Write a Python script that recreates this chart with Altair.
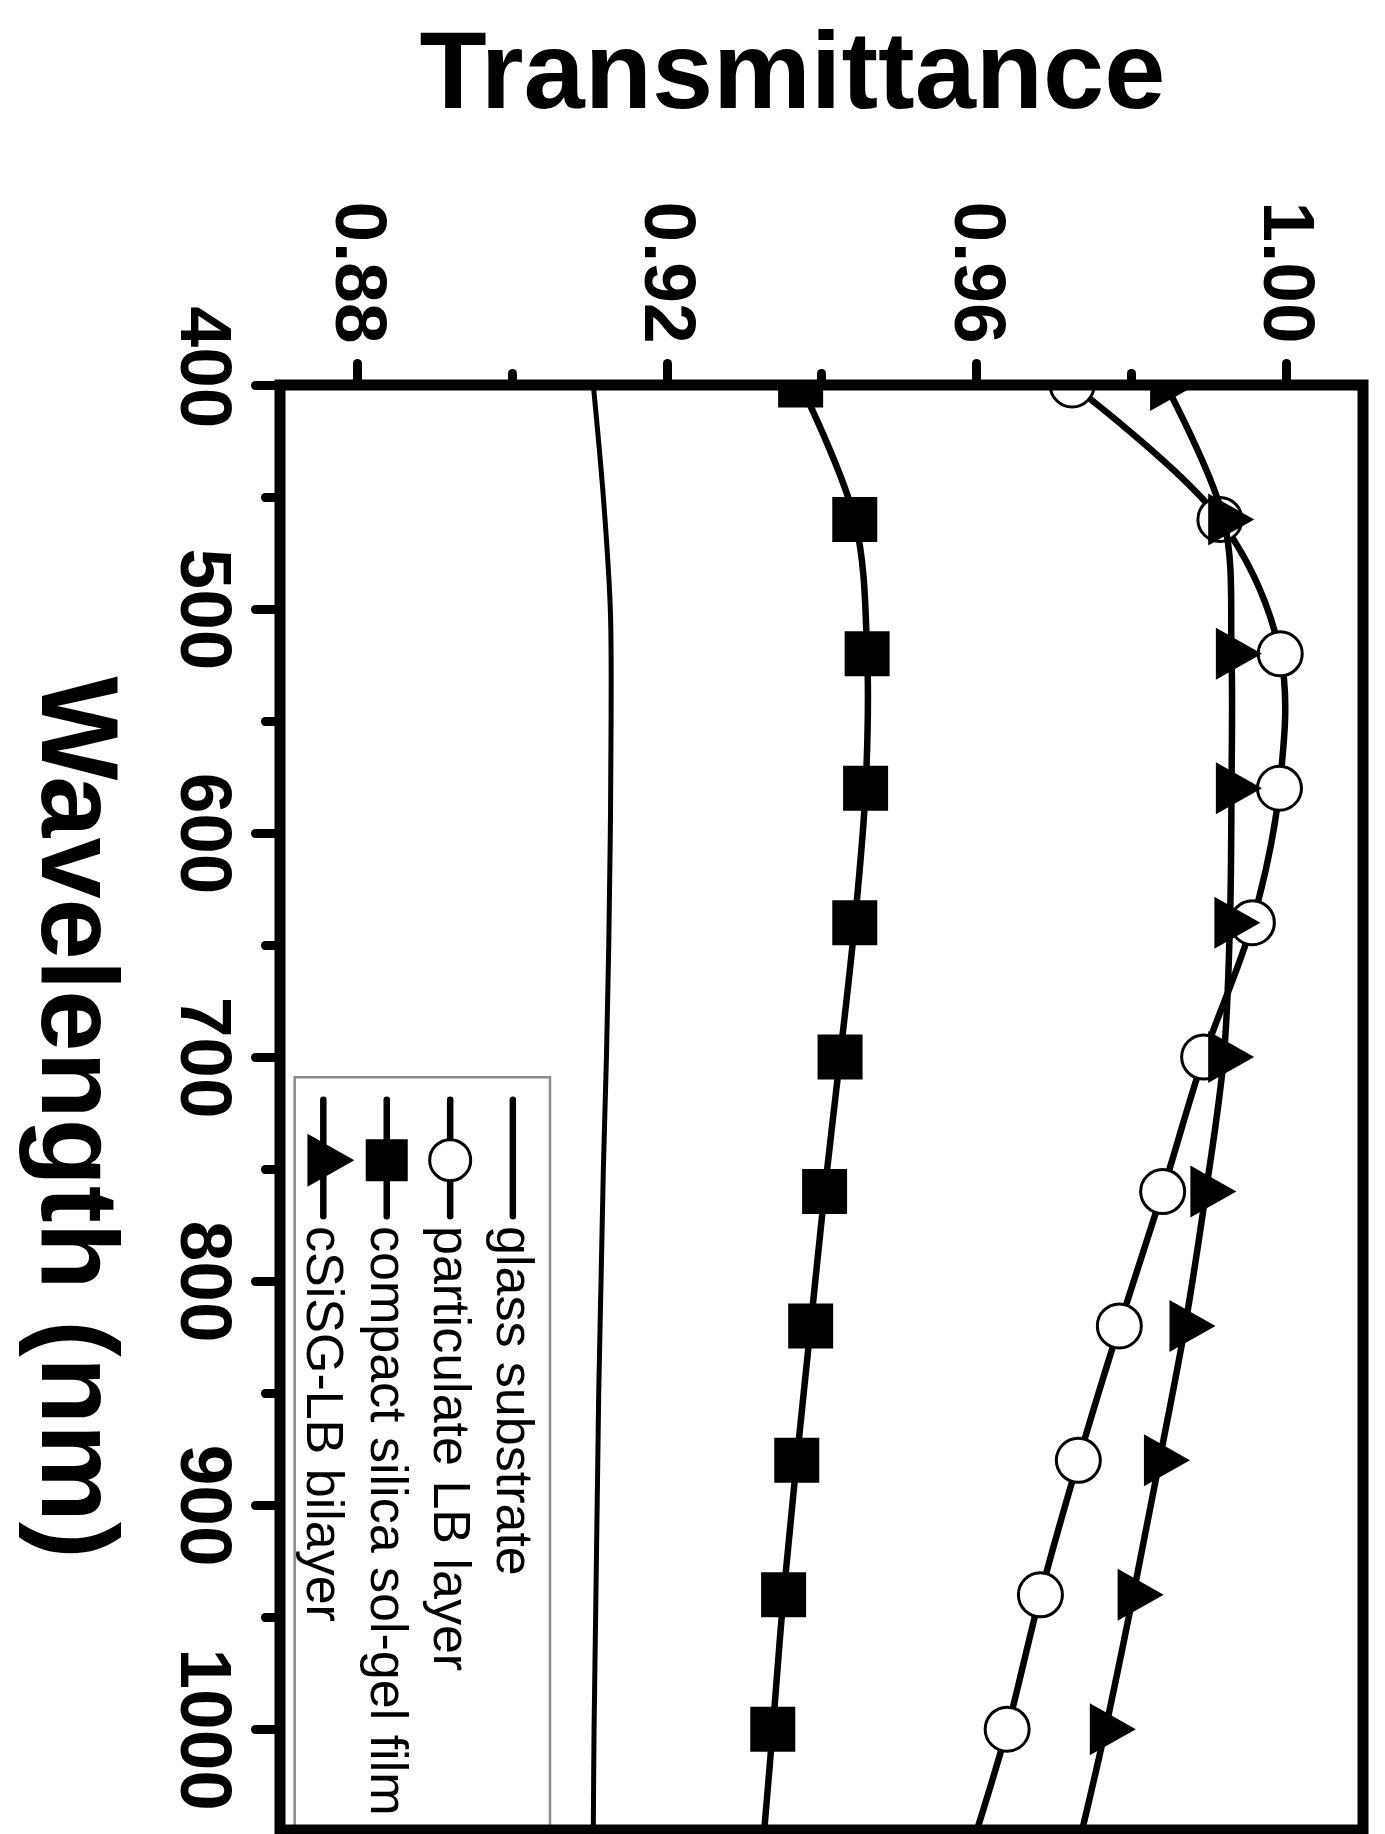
import altair as alt
import pandas as pd

# ---------------- data ----------------
wl_markers = [400, 460, 520, 580, 640, 700, 760, 820, 880, 940, 1000]
compact = [0.9373, 0.9443, 0.9459, 0.9457, 0.9443, 0.9424, 0.9404, 0.9386, 0.9368, 0.9351, 0.9337]
particulate = [0.9724, 0.9915, 0.9993, 0.9992, 0.9957, 0.9894, 0.9841, 0.9785, 0.9732, 0.9683, 0.9640]
bilayer = [0.9845, 0.9920, 0.9930, 0.9930, 0.9928, 0.9920, 0.9897, 0.9870, 0.9837, 0.9803, 0.9767]

wl_end = 1045
compact_end = 0.9326
particulate_end = 0.9601
bilayer_end = 0.9737

glass_wl = [400, 450, 500, 550, 600, 650, 700, 750, 800, 850, 900, 950, 1000, 1045]
glass = [0.9105, 0.9118, 0.9127, 0.9128, 0.9127, 0.9125, 0.9122, 0.9118, 0.9115,
         0.9112, 0.9110, 0.9108, 0.9106, 0.9105]

names = ["glass substrate", "particulate LB layer",
         "compact silica sol-gel film", "cSiSG-LB bilayer"]

x_major = [0.88, 0.92, 0.96, 1.00]
x_minor = [0.90, 0.94, 0.98]
y_major = [500, 600, 700, 800, 900, 1000]
y_first = [400]
y_minor = [450, 550, 650, 750, 850, 950]
x_domain = [0.87, 1.01]
y_domain = [400, 1045]

# legend placement (in data units of the plot)
legend_x = [0.9001, 0.8920, 0.8838, 0.8756]
legend_seg = [719, 771]
legend_mark_wl = 746
legend_text_wl = 775.4
legend_box_x = [0.8719, 0.9049]
legend_box_wl = [709, 1045]

# ---------------- tables ----------------
def series_df(name, vals, end):
    rows = [{"series": name, "wl": w, "T": v} for w, v in zip(wl_markers, vals)]
    line_rows = rows + [{"series": name, "wl": wl_end, "T": end}]
    return pd.DataFrame(line_rows), pd.DataFrame(rows)

part_line, part_pts = series_df(names[1], particulate, particulate_end)
comp_line, comp_pts = series_df(names[2], compact, compact_end)
bil_line, bil_pts = series_df(names[3], bilayer, bilayer_end)
glass_df = pd.DataFrame({"series": names[0], "wl": glass_wl, "T": glass})

leg_df = pd.DataFrame({"series": names, "x": legend_x,
                       "y1": legend_seg[0], "y2": legend_seg[1],
                       "ym": legend_mark_wl, "yt": legend_text_wl})
box_df = pd.DataFrame({"x1": [legend_box_x[0]], "x2": [legend_box_x[1]],
                       "y1": [legend_box_wl[0]], "y2": [legend_box_wl[1]]})
frame_df = pd.DataFrame({"x1": [x_domain[0]], "x2": [x_domain[1]],
                         "y1": [y_domain[0]], "y2": [y_domain[1]]})

# ---------------- scales / axes ----------------
FONT = "Liberation Sans"
xs = alt.Scale(domain=x_domain, nice=False, zero=False)
ys = alt.Scale(domain=y_domain, reverse=True, nice=False, zero=False)

common_tick = dict(grid=False, domain=False, tickWidth=9, tickColor="black",
                   tickCap="round", labelOverlap=False, labelFlush=False)

x_axis_major = alt.Axis(
    orient="top", values=x_major, format=".2f",
    title="Transmittance", titleAngle=0, titleX=512, titleY=-278,
    titleAlign="center", titleBaseline="alphabetic", titleFont=FONT,
    titleFontSize=110, titleFontWeight="bold", titleColor="black",
    labelAngle=90, labelAlign="right", labelBaseline="middle",
    labelFont=FONT, labelFontSize=73, labelFontWeight="bold", labelColor="black",
    labelPadding=20, tickSize=22, **common_tick,
)
x_axis_minor = alt.Axis(orient="top", values=x_minor, labels=False, title=None,
                        tickSize=12, **common_tick)

y_axis_major = alt.Axis(
    orient="left", values=y_major, format="d",
    title="Wavelength (nm)", titleAngle=90, titleX=-239, titleY=732,
    titleAlign="center", titleBaseline="alphabetic", titleFont=FONT,
    titleFontSize=110, titleFontWeight="bold", titleColor="black",
    labelAngle=90, labelAlign="center", labelBaseline="top",
    labelFont=FONT, labelFontSize=73, labelFontWeight="bold", labelColor="black",
    labelPadding=17, tickSize=25, **common_tick,
)
y_axis_first = alt.Axis(
    orient="left", values=y_first, format="d", title=None,
    labelAngle=90, labelAlign="center", labelBaseline="top",
    labelFont=FONT, labelFontSize=73, labelFontWeight="bold", labelColor="black",
    labelPadding=17, labelOffset=-18, tickSize=25, **common_tick,
)
y_axis_minor = alt.Axis(orient="left", values=y_minor, labels=False, title=None,
                        tickSize=15, **common_tick)

TRI = "M1.17,0L-0.6,-1L-0.6,1Z"

def X(field="T", axis=None):
    return alt.X(f"{field}:Q", scale=xs, axis=axis)

def Y(field="wl", axis=None):
    return alt.Y(f"{field}:Q", scale=ys, axis=axis)

# glass substrate (carries the major axes)
glass_layer = alt.Chart(glass_df).mark_line(
    color="black", strokeWidth=5, interpolate="catmull-rom", clip=True
).encode(x=X("T", x_axis_major), y=Y("wl", y_axis_major), order="wl:Q")

def line_layer(df):
    return alt.Chart(df).mark_line(
        color="black", strokeWidth=6.5, interpolate="catmull-rom", clip=True
    ).encode(x=X(), y=Y(), order="wl:Q")

circles = alt.Chart(part_pts).mark_point(
    shape="circle", size=1936, filled=True, fill="white", stroke="black",
    strokeWidth=3, opacity=1, clip=True
).encode(x=X(), y=Y())
squares = alt.Chart(comp_pts).mark_point(
    shape="square", size=2025, filled=True, fill="black", opacity=1, clip=True
).encode(x=X(), y=Y())
triangles = alt.Chart(bil_pts).mark_point(
    shape=TRI, size=2704, filled=True, fill="black", opacity=1, clip=True
).encode(x=X(), y=Y())

# legend (box carries the minor ticks)
box = alt.Chart(box_df).mark_rect(
    fill="white", stroke="#8c8c8c", strokeWidth=2.5
).encode(x=X("x1", x_axis_minor), x2="x2:Q", y=Y("y1", y_axis_minor), y2="y2:Q")
leg_lines = alt.Chart(leg_df).mark_rule(
    color="black", strokeWidth=6.5, strokeCap="round"
).encode(x=X("x"), y=Y("y1"), y2="y2:Q")
leg_circle = alt.Chart(leg_df).transform_filter(
    alt.datum.series == names[1]).mark_point(
    shape="circle", size=1681, filled=True, fill="white", stroke="black",
    strokeWidth=3, opacity=1).encode(x=X("x"), y=Y("ym"))
leg_square = alt.Chart(leg_df).transform_filter(
    alt.datum.series == names[2]).mark_point(
    shape="square", size=1764, filled=True, fill="black", opacity=1
).encode(x=X("x"), y=Y("ym"))
leg_tri = alt.Chart(leg_df).transform_filter(
    alt.datum.series == names[3]).mark_point(
    shape=TRI, size=2809, filled=True, fill="black", opacity=1
).encode(x=X("x"), y=Y("ym"))
leg_text = alt.Chart(leg_df).mark_text(
    angle=90, align="left", baseline="middle", font=FONT, fontSize=52, color="black"
).encode(x=X("x"), y=Y("yt"), text="series:N")

# frame on top (carries the first wavelength label)
frame = alt.Chart(frame_df).mark_rect(
    fillOpacity=0, stroke="black", strokeWidth=11
).encode(x=X("x1"), x2="x2:Q", y=Y("y1", y_axis_first), y2="y2:Q")

chart = alt.layer(
    glass_layer,
    box,
    line_layer(part_line), circles,
    line_layer(comp_line), squares,
    line_layer(bil_line), triangles,
    leg_lines, leg_circle, leg_square, leg_tri, leg_text,
    frame,
).resolve_scale(
    x="independent", y="independent"
).properties(
    width=1083, height=1445,
    padding={"left": 280, "top": 385, "right": 22, "bottom": 4},
    autosize=alt.AutoSizeParams(type="none"),
    background="white",
).configure_view(stroke=None)

chart.save("out.html", embed_options={"renderer": "svg", "actions": False})
